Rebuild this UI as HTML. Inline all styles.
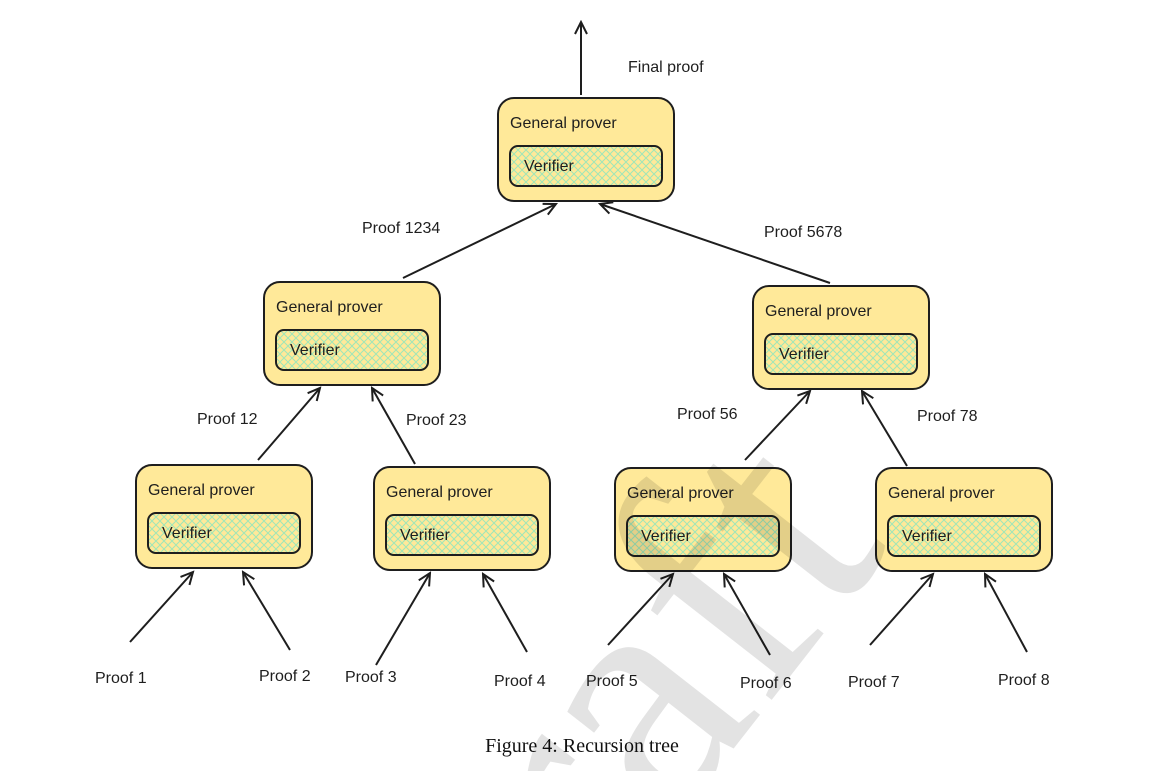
<!DOCTYPE html>
<html><head><meta charset="utf-8"><style>
html,body{margin:0;padding:0;background:#fff;width:1160px;height:771px;overflow:hidden}
svg{display:block}
.l{font-family:"Liberation Sans",sans-serif;font-size:16px;fill:#1e1e1e}
</style></head><body>
<svg width="1160" height="771" viewBox="0 0 1160 771" xmlns="http://www.w3.org/2000/svg">
<defs>
<pattern id="h" width="8" height="8" patternUnits="userSpaceOnUse">
<rect width="8" height="8" fill="#ffe999"/>
<path d="M0 0L8 8M8 0L0 8" stroke="#9fe6b8" stroke-width="1"/>
</pattern>
<marker id="a" markerWidth="16" markerHeight="16" refX="14" refY="8" orient="auto" markerUnits="userSpaceOnUse">
<path d="M2 2L14 8L2 14" fill="none" stroke="#1e1e1e" stroke-width="2"/>
</marker>
<g id="box">
<rect x="0" y="0" width="176" height="103" rx="16" fill="#ffe999" stroke="#1e1e1e" stroke-width="2"/>
<rect x="12" y="48" width="152" height="40" rx="8" fill="url(#h)" stroke="#1e1e1e" stroke-width="2"/>
<text x="12" y="30" class="l">General prover</text>
<text x="26" y="73" class="l">Verifier</text>
</g>
</defs>
<use href="#box" x="498" y="98"/>
<use href="#box" x="264" y="282"/>
<use href="#box" x="753" y="286"/>
<use href="#box" x="136" y="465"/>
<use href="#box" x="374" y="467"/>
<use href="#box" x="615" y="468"/>
<use href="#box" x="876" y="468"/>
<g stroke="#1e1e1e" stroke-width="2" fill="none" marker-end="url(#a)">
<line x1="581" y1="95" x2="581" y2="22"/>
<line x1="403" y1="278" x2="556" y2="204"/>
<line x1="830" y1="283" x2="600" y2="204"/>
<line x1="258" y1="460" x2="320" y2="388"/>
<line x1="415" y1="464" x2="372" y2="388"/>
<line x1="745" y1="460" x2="810" y2="391"/>
<line x1="907" y1="466" x2="862" y2="391"/>
<line x1="130" y1="642" x2="193" y2="572"/>
<line x1="290" y1="650" x2="243" y2="572"/>
<line x1="376" y1="665" x2="430" y2="573"/>
<line x1="527" y1="652" x2="483" y2="574"/>
<line x1="608" y1="645" x2="673" y2="574"/>
<line x1="770" y1="655" x2="724" y2="574"/>
<line x1="870" y1="645" x2="933" y2="574"/>
<line x1="1027" y1="652" x2="985" y2="574"/>
</g>
<g class="l">
<text x="628" y="72" class="l">Final proof</text>
<text x="362" y="233" class="l">Proof 1234</text>
<text x="764" y="237" class="l">Proof 5678</text>
<text x="197" y="424" class="l">Proof 12</text>
<text x="406" y="425" class="l">Proof 23</text>
<text x="677" y="419" class="l">Proof 56</text>
<text x="917" y="421" class="l">Proof 78</text>
<text x="95" y="683" class="l">Proof 1</text>
<text x="259" y="681" class="l">Proof 2</text>
<text x="345" y="682" class="l">Proof 3</text>
<text x="494" y="686" class="l">Proof 4</text>
<text x="586" y="686" class="l">Proof 5</text>
<text x="740" y="688" class="l">Proof 6</text>
<text x="848" y="687" class="l">Proof 7</text>
<text x="998" y="685" class="l">Proof 8</text>
</g>
<text x="582" y="752" text-anchor="middle" style="font-family:'Liberation Serif',serif;font-size:20px" fill="#111">Figure 4: Recursion tree</text>
<g transform="translate(670,830) rotate(-52)">
<text x="0" y="0" style="font-family:'Liberation Serif',serif;font-size:340px" fill="#000" fill-opacity="0.11">aft</text>
<text x="0" y="0" text-anchor="end" style="font-family:'Liberation Serif',serif;font-size:340px" fill="#000" fill-opacity="0.11">Dr</text>
</g>
</svg>
</body></html>
